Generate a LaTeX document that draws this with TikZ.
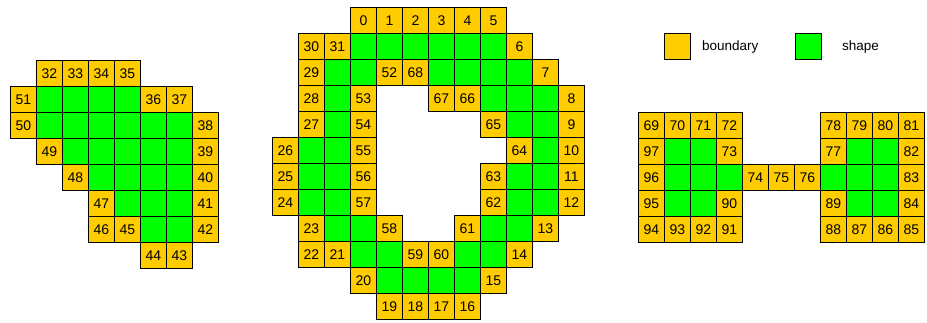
\documentclass[tikz,border=0pt]{standalone}
\usepackage{fontspec}
\setmainfont{Liberation Sans}
\definecolor{boundcol}{HTML}{FFCC00}
\definecolor{shapecol}{HTML}{00FF00}
\begin{document}
\begin{tikzpicture}[x=1pt,y=-1pt,
  cellbase/.style={draw=black, line width=0.8pt, minimum size=26pt, inner sep=0pt, anchor=north west},
  bcell/.style={cellbase, fill=boundcol, font=\fontsize{14}{14}\selectfont},
  gcell/.style={cellbase, fill=shapecol},
  legtext/.style={anchor=west, inner sep=0pt, font=\fontsize{13.5}{14}\selectfont}]
\useasboundingbox (0,0) rectangle (927,323);
% left shape
\begin{scope}[shift={(10,60)}]
  \foreach \c/\r in {1/1,2/1,3/1,4/1,
                     1/2,2/2,3/2,4/2,5/2,6/2,
                     2/3,3/3,4/3,5/3,6/3,
                     3/4,4/4,5/4,6/4,
                     4/5,5/5,6/5,
                     5/6,6/6}
    \node[gcell] (gL-\c-\r) at (\c*26,\r*26) {};
  \foreach \c/\r/\t in {1/0/32,2/0/33,3/0/34,4/0/35,0/1/51,5/1/36,6/1/37,0/2/50,7/2/38,
                        1/3/49,7/3/39,2/4/48,7/4/40,3/5/47,7/5/41,3/6/46,4/6/45,7/6/42,
                        5/7/44,6/7/43}
    \node[bcell] (n\t) at (\c*26,\r*26) {\t};
\end{scope}
% middle shape
\begin{scope}[shift={(272,7)}]
  \foreach \c/\r in {3/1,4/1,5/1,6/1,7/1,8/1,
                     2/2,3/2,6/2,7/2,8/2,9/2,
                     2/3,8/3,9/3,10/3,
                     2/4,9/4,10/4,
                     1/5,2/5,10/5,
                     1/6,2/6,9/6,10/6,
                     1/7,2/7,9/7,10/7,
                     2/8,3/8,8/8,9/8,
                     3/9,4/9,7/9,8/9,
                     4/10,5/10,6/10,7/10}
    \node[gcell] (gM-\c-\r) at (\c*26,\r*26) {};
  \foreach \c/\r/\t in {3/0/0,4/0/1,5/0/2,6/0/3,7/0/4,8/0/5,
                        1/1/30,2/1/31,9/1/6,
                        1/2/29,4/2/52,5/2/68,10/2/7,
                        1/3/28,3/3/53,6/3/67,7/3/66,11/3/8,
                        1/4/27,3/4/54,8/4/65,11/4/9,
                        0/5/26,3/5/55,9/5/64,11/5/10,
                        0/6/25,3/6/56,8/6/63,11/6/11,
                        0/7/24,3/7/57,8/7/62,11/7/12,
                        1/8/23,4/8/58,7/8/61,10/8/13,
                        1/9/22,2/9/21,5/9/59,6/9/60,9/9/14,
                        3/10/20,8/10/15,
                        4/11/19,5/11/18,6/11/17,7/11/16}
    \node[bcell] (n\t) at (\c*26,\r*26) {\t};
\end{scope}
% right shape
\begin{scope}[shift={(638,112)}]
  \foreach \c/\r in {1/1,2/1,8/1,9/1,
                     1/2,2/2,3/2,7/2,8/2,9/2,
                     1/3,2/3,8/3,9/3}
    \node[gcell] (gR-\c-\r) at (\c*26,\r*26) {};
  \foreach \c/\r/\t in {0/0/69,1/0/70,2/0/71,3/0/72,7/0/78,8/0/79,9/0/80,10/0/81,
                        0/1/97,3/1/73,7/1/77,10/1/82,
                        0/2/96,4/2/74,5/2/75,6/2/76,10/2/83,
                        0/3/95,3/3/90,7/3/89,10/3/84,
                        0/4/94,1/4/93,2/4/92,3/4/91,7/4/88,8/4/87,9/4/86,10/4/85}
    \node[bcell] (n\t) at (\c*26,\r*26) {\t};
\end{scope}
% legend
\node[bcell] (legb) at (664,33) {};
\node[legtext] (legbt) at (702,47) {boundary};
\node[gcell] (legs) at (795,33) {};
\node[legtext] (legst) at (842,47) {shape};
\end{tikzpicture}
\end{document}
